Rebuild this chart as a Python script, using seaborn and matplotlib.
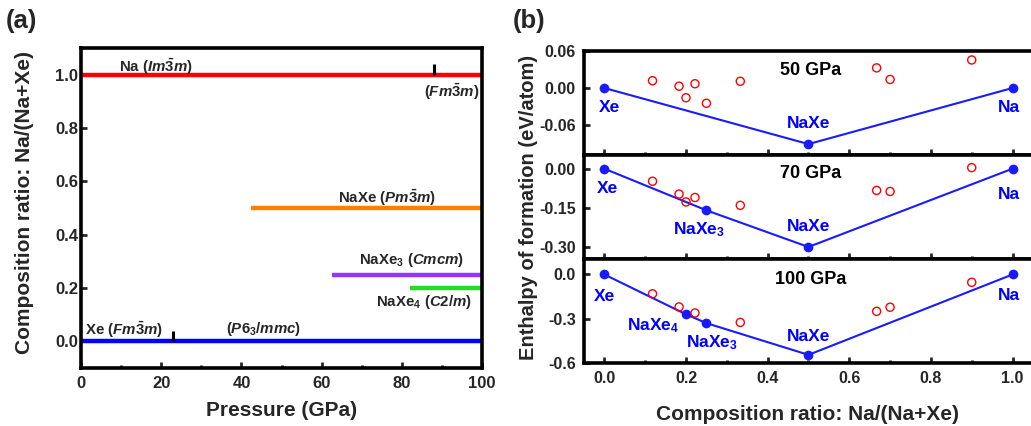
import matplotlib
matplotlib.use('Agg')
import matplotlib.pyplot as plt
import seaborn as sns
import pandas as pd
from matplotlib.ticker import MultipleLocator, FormatStrFormatter

# (a) 압력에 따른 안정상 범위
phase_names = ['Na', 'NaXe', 'NaXe3', 'NaXe4', 'Xe']
phase_ratio = [1.0, 0.5, 0.25, 0.2, 0.0]
phase_start = [0, 42.5, 62.5, 82, 0]
phase_end = [100, 100, 100, 100, 100]
phase_colors = ['#ff0000', '#ff8000', '#9933ff', '#22dd22', '#0000ff']
trans_p = [88, 23]
trans_ratio = [1.0, 0.0]

# (b) 생성 엔탈피 (convex hull)
pressures = ['50 GPa', '70 GPa', '100 GPa']
hull_x_50 = [0.0, 0.5, 1.0]
hull_y_50 = [0.0, -0.092, 0.0]
hull_x_70 = [0.0, 0.25, 0.5, 1.0]
hull_y_70 = [0.0, -0.159, -0.299, 0.0]
hull_x_100 = [0.0, 0.2, 0.25, 0.5, 1.0]
hull_y_100 = [0.0, -0.270, -0.330, -0.545, 0.0]

off_x_50 = [0.118, 0.183, 0.2, 0.222, 0.25, 0.333, 0.667, 0.70, 0.90]
off_y_50 = [0.012, 0.003, -0.016, 0.007, -0.025, 0.011, 0.033, 0.014, 0.046]
off_x_70 = [0.118, 0.183, 0.2, 0.222, 0.333, 0.667, 0.70, 0.90]
off_y_70 = [-0.048, -0.097, -0.127, -0.110, -0.140, -0.083, -0.087, 0.004]
off_x_100 = [0.118, 0.183, 0.222, 0.333, 0.667, 0.70, 0.90]
off_y_100 = [-0.131, -0.220, -0.261, -0.325, -0.250, -0.222, -0.053]

sns.set_style('ticks')
plt.rcParams['font.family'] = ['Liberation Sans', 'DejaVu Sans']
plt.rcParams['font.weight'] = 'bold'
plt.rcParams['axes.labelweight'] = 'bold'
plt.rcParams['mathtext.fontset'] = 'custom'
plt.rcParams['mathtext.rm'] = 'Liberation Sans:bold'
plt.rcParams['mathtext.bf'] = 'Liberation Sans:bold'
plt.rcParams['mathtext.it'] = 'Liberation Sans:italic:bold'
plt.rcParams['mathtext.default'] = 'rm'
plt.rcParams['axes.unicode_minus'] = False

fig = plt.figure(figsize=(10.31, 4.26), dpi=100)
fig.patch.set_facecolor('white')

def style_axes(ax, lw=2.6):
    for sp in ax.spines.values():
        sp.set_linewidth(lw)
        sp.set_color('black')
        sp.set_visible(True)
    ax.set_facecolor('white')

# ---------- (a) ----------
ax = fig.add_axes([0.0786, 0.136, 0.389, 0.751])
rows = []
for n, r, s, e in zip(phase_names, phase_ratio, phase_start, phase_end):
    rows.append({'phase': n, 'P': s, 'ratio': r})
    rows.append({'phase': n, 'P': e, 'ratio': r})
df_a = pd.DataFrame(rows)
sns.lineplot(data=df_a, x='P', y='ratio', hue='phase', units='phase', estimator=None,
             palette=dict(zip(phase_names, phase_colors)), lw=3.2, legend=False, ax=ax,
             solid_capstyle='butt')
ax.vlines(trans_p, trans_ratio, [r + 0.04 for r in trans_ratio], color='black', lw=2.2)

ax.set_xlim(0, 100)
ax.set_ylim(-0.1, 1.1)
ax.xaxis.set_major_locator(MultipleLocator(20))
ax.xaxis.set_minor_locator(MultipleLocator(10))
ax.yaxis.set_major_locator(MultipleLocator(0.2))
ax.yaxis.set_major_formatter(FormatStrFormatter('%.1f'))
ax.tick_params(axis='both', which='both', direction='in', width=2, labelsize=12)
ax.tick_params(axis='both', which='major', length=4.5)
ax.tick_params(axis='both', which='minor', length=2.5)
ax.tick_params(axis='x', pad=6)
ax.tick_params(axis='y', pad=2)
ax.set_xlabel('')
ax.set_ylabel('')
style_axes(ax)

fs_a = 10.8
ax.text(18.7, 1.03, r'Na ($\mathit{Im}\bar{3}\mathit{m}$)', ha='center', va='center', fontsize=fs_a)
ax.text(92.3, 0.936, r'($\mathit{Fm}\bar{3}\mathit{m}$)', ha='center', va='center', fontsize=fs_a)
ax.text(76.3, 0.539, r'NaXe ($\mathit{Pm}\bar{3}\mathit{m}$)', ha='center', va='center', fontsize=fs_a)
ax.text(82.5, 0.307, r'NaXe$_3$ ($\mathit{Cmcm}$)', ha='center', va='center', fontsize=fs_a)
ax.text(85.4, 0.146, r'NaXe$_4$ ($\mathit{C}$2/$\mathit{m}$)', ha='center', va='center', fontsize=fs_a)
ax.text(10.7, 0.045, r'Xe ($\mathit{Fm}\bar{3}\mathit{m}$)', ha='center', va='center', fontsize=fs_a)
ax.text(45.4, 0.045, r'($\mathit{P}$6$_3$/$\mathit{mmc}$)', ha='center', va='center', fontsize=fs_a)

fig.text(25 / 1031, 1 - 203 / 426, 'Composition ratio: Na/(Na+Xe)', rotation=90,
         ha='center', va='center', fontsize=15, fontweight='bold')
fig.text(0.5 * (81 + 482) / 1031, 1 - 410 / 426, 'Pressure (GPa)',
         ha='center', va='center', fontsize=15, fontweight='bold')
fig.text(6 / 1031, 1 - 21 / 426, '(a)', ha='left', va='center', fontsize=18.5, fontweight='bold')

# ---------- (b) ----------
blue = '#1a1aff'
hulls = [(hull_x_50, hull_y_50), (hull_x_70, hull_y_70), (hull_x_100, hull_y_100)]
offs = [(off_x_50, off_y_50), (off_x_70, off_y_70), (off_x_100, off_y_100)]
ylims = [(-0.11, 0.0605), (-0.345, 0.052), (-0.6, 0.105)]
yticks = [[-0.06, 0.0, 0.06], [-0.30, -0.15, 0.0], [-0.6, -0.3, 0.0]]
yfmt = ['%.2f', '%.2f', '%.1f']
bottoms = [0.636, 0.392, 0.148]
labels = [
    [('Xe', 0.012, -0.032), ('NaXe', 0.5, -0.059), ('Na', 0.99, -0.032)],
    [('Xe', 0.007, -0.074), ('NaXe$_3$', 0.232, -0.233), ('NaXe', 0.5, -0.22), ('Na', 0.99, -0.097)],
    [('Xe', 0.0, -0.149), ('NaXe$_4$', 0.12, -0.348), ('NaXe$_3$', 0.264, -0.462),
     ('NaXe', 0.5, -0.419), ('Na', 0.99, -0.142)],
]
title_y = [0.028, -0.019, -0.034]

for i in range(3):
    axb = fig.add_axes([0.5664, bottoms[i], 0.4355, 0.244])
    hx, hy = hulls[i]
    ox, oy = offs[i]
    sns.lineplot(x=hx, y=hy, color=blue, lw=1.5, marker='o', markersize=7,
                 markeredgewidth=0, ax=axb)
    sns.scatterplot(x=ox, y=oy, marker='o', s=34, facecolors='none', edgecolor='red',
                    linewidth=1.0, ax=axb, zorder=3)
    axb.set_xlim(-0.05, 1.05)
    axb.set_ylim(*ylims[i])
    axb.set_yticks(yticks[i])
    axb.yaxis.set_major_formatter(FormatStrFormatter(yfmt[i]))
    axb.xaxis.set_major_locator(MultipleLocator(0.2))
    axb.xaxis.set_minor_locator(MultipleLocator(0.1))
    axb.xaxis.set_major_formatter(FormatStrFormatter('%.1f'))
    axb.tick_params(axis='both', which='both', direction='in', width=2, labelsize=11.5)
    axb.tick_params(axis='both', which='major', length=4.5)
    axb.tick_params(axis='x', which='minor', length=2.5)
    axb.tick_params(axis='y', pad=6)
    axb.tick_params(axis='x', pad=6)
    if i < 2:
        axb.tick_params(axis='x', labelbottom=False)
    axb.set_xlabel('')
    axb.set_ylabel('')
    style_axes(axb)
    for txt, tx, ty in labels[i]:
        axb.text(tx, ty, txt, color='#0000ff', ha='center', va='center', fontsize=12.5)
    axb.text(0.505, title_y[i], pressures[i], color='black', ha='center', va='center', fontsize=13)

fig.text(529 / 1031, 1 - 207 / 426, 'Enthalpy of formation (eV/atom)', rotation=90,
         ha='center', va='center', fontsize=14.5, fontweight='bold')
fig.text((584 + 1031) / 2 / 1031, 1 - 415 / 426, 'Composition ratio: Na/(Na+Xe)',
         ha='center', va='center', fontsize=15, fontweight='bold')
fig.text(513 / 1031, 1 - 21 / 426, '(b)', ha='left', va='center', fontsize=18.5, fontweight='bold')

fig.savefig('out.png', dpi=100, facecolor='white')
